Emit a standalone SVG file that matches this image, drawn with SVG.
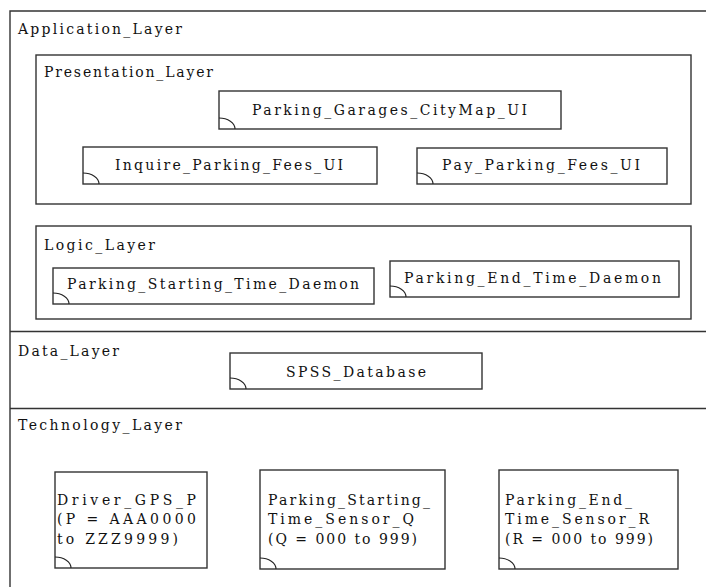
<svg xmlns="http://www.w3.org/2000/svg" xmlns:xlink="http://www.w3.org/1999/xlink" width="706" height="587" viewBox="0 0 706 587">
<style>
  .box { fill: #ffffff; stroke: #333333; stroke-width: 1.4; }
  .line { fill: none; stroke: #333333; stroke-width: 1.4; }
  .corner { fill: none; stroke: #222222; stroke-width: 1.1; }
  text { font-family: "DejaVu Serif", "Liberation Serif", serif; font-size: 14px; fill: #111111; }
</style>
<defs>
  <path id="corner" class="corner" d="M0,-11 A16,11 0 0 1 16,0"/>
</defs>
<rect x="0" y="0" width="706" height="587" fill="#ffffff"/>

<g id="Application_Layer">
  <path class="line" d="M10,587 L10,11 L706,11"/>
  <line class="line" x1="10" y1="331.5" x2="706" y2="331.5"/>
  <text x="18" y="33.5" textLength="164" lengthAdjust="spacing">Application_Layer</text>
</g>

<g id="Presentation_Layer">
  <rect class="box" x="36" y="55" width="655" height="149"/>
  <text x="44" y="76.5" textLength="169" lengthAdjust="spacing">Presentation_Layer</text>
</g>

<g id="Parking_Garages_CityMap_UI">
  <rect class="box" x="219" y="91" width="342" height="38"/>
  <use xlink:href="#corner" x="219" y="129"/>
  <text x="252" y="114.5" textLength="275" lengthAdjust="spacing">Parking_Garages_CityMap_UI</text>
</g>

<g id="Inquire_Parking_Fees_UI">
  <rect class="box" x="83" y="147" width="294" height="37"/>
  <use xlink:href="#corner" x="83" y="184"/>
  <text x="115" y="169.5" textLength="228" lengthAdjust="spacing">Inquire_Parking_Fees_UI</text>
</g>

<g id="Pay_Parking_Fees_UI">
  <rect class="box" x="417" y="148" width="250" height="36"/>
  <use xlink:href="#corner" x="417" y="184"/>
  <text x="442" y="169.5" textLength="198" lengthAdjust="spacing">Pay_Parking_Fees_UI</text>
</g>

<g id="Logic_Layer">
  <rect class="box" x="36" y="226" width="655" height="93"/>
  <text x="44" y="249.5" textLength="111" lengthAdjust="spacing">Logic_Layer</text>
</g>

<g id="Parking_Starting_Time_Daemon">
  <rect class="box" x="53" y="268" width="321" height="36"/>
  <use xlink:href="#corner" x="53" y="304"/>
  <text x="67" y="288.5" textLength="292" lengthAdjust="spacing">Parking_Starting_Time_Daemon</text>
</g>

<g id="Parking_End_Time_Daemon">
  <rect class="box" x="390" y="261" width="289" height="36"/>
  <use xlink:href="#corner" x="390" y="297"/>
  <text x="404" y="282.5" textLength="257" lengthAdjust="spacing">Parking_End_Time_Daemon</text>
</g>

<g id="Data_Layer">
  <line class="line" x1="10" y1="408.5" x2="706" y2="408.5"/>
  <text x="18" y="355.5" textLength="101" lengthAdjust="spacing">Data_Layer</text>
</g>

<g id="SPSS_Database">
  <rect class="box" x="230" y="353" width="252" height="36"/>
  <use xlink:href="#corner" x="230" y="389"/>
  <text x="286" y="376.5" textLength="140" lengthAdjust="spacing">SPSS_Database</text>
</g>

<g id="Technology_Layer">
  <text x="18" y="429.5" textLength="164" lengthAdjust="spacing">Technology_Layer</text>
</g>

<g id="Driver_GPS_P">
  <rect class="box" x="55" y="472" width="152" height="96"/>
  <use xlink:href="#corner" x="55" y="568"/>
  <text x="57" y="504.5" textLength="139" lengthAdjust="spacing">Driver_GPS_P</text>
  <text x="57" y="524" textLength="139" lengthAdjust="spacing">(P = AAA0000</text>
  <text x="57" y="543.5" textLength="121" lengthAdjust="spacing">to ZZZ9999)</text>
</g>

<g id="Parking_Starting_Time_Sensor_Q">
  <rect class="box" x="260" y="470" width="185" height="99"/>
  <use xlink:href="#corner" x="260" y="569"/>
  <text x="268" y="504.5" textLength="162" lengthAdjust="spacing">Parking_Starting_</text>
  <text x="268" y="524" textLength="146" lengthAdjust="spacing">Time_Sensor_Q</text>
  <text x="268" y="543.5" textLength="149" lengthAdjust="spacing">(Q = 000 to 999)</text>
</g>

<g id="Parking_End_Time_Sensor_R">
  <rect class="box" x="499" y="470" width="179" height="99"/>
  <use xlink:href="#corner" x="499" y="569"/>
  <text x="505" y="504.5" textLength="127" lengthAdjust="spacing">Parking_End_</text>
  <text x="505" y="524" textLength="144" lengthAdjust="spacing">Time_Sensor_R</text>
  <text x="505" y="543.5" textLength="148" lengthAdjust="spacing">(R = 000 to 999)</text>
</g>

<g id="connectors"></g>
</svg>
